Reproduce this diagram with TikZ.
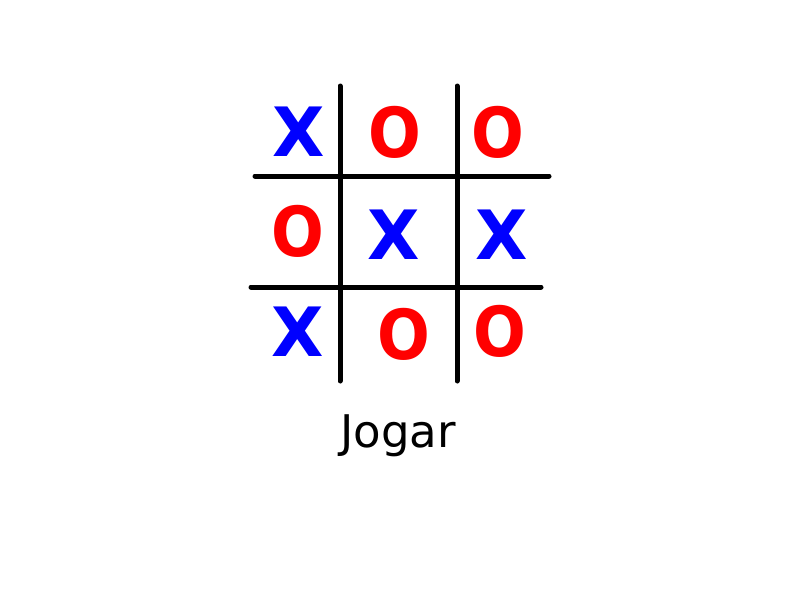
\documentclass[tikz,border=0pt]{standalone}
\usepackage{fontspec}
\setmainfont{DejaVu Sans}
\newfontfamily\markfont[FakeStretch=0.9]{DejaVu Sans}
\usepackage{tikz}
\usetikzlibrary{calc}

\tikzset{
	grid line/.style = {line width = 5pt, line cap = round},
	cross/.style = {text = blue, font = \fontsize{68}{68}\selectfont\bfseries, inner sep = 0pt},
	nought/.style = {text = red, font = \markfont\fontsize{69}{69}\selectfont\bfseries, inner sep = 0pt},
}

\begin{document}
\begin{tikzpicture}[x=1pt, y=-1pt]
		\useasboundingbox (0,0) rectangle (800,600);
		\def\top{86};
		\def\bottom{381};
		
		\coordinate (v1 top) at (340,\top);
		\coordinate (v1 bottom) at (340,\bottom);
		\coordinate (v2 top) at (457,\top);
		\coordinate (v2 bottom) at (457,\bottom);
		\coordinate (h1 left) at (255,176);
		\coordinate (h1 right) at (549,176);
		\coordinate (h2 left) at (251,287);
		\coordinate (h2 right) at (541,287);
		
		\draw [grid line] (v1 top) -- (v1 bottom);
		\draw [grid line] (v2 top) -- (v2 bottom);
		\draw [grid line] (h1 left) -- (h1 right);
		\draw [grid line] (h2 left) -- (h2 right);
		
		\node [cross] (c11) at (299,132) {X};
		\node [nought] (c12) at (395,132) {O};
		\node [nought] (c13) at (498,132) {O};
		
		\node [nought] (c21) at (298,231) {O};
		\node [cross] (c22) at (394,235) {X};
		\node [cross] (c23) at (502,235) {X};
		
		\node [cross] (c31) at (298,332) {X};
		\node [nought] (c32) at (404,334) {O};
		\node [nought] (c33) at (500,331) {O};
		
		\node [anchor = base, inner sep = 0pt, font = \fontsize{45}{45}\selectfont] (play) at (398,447) {Jogar};
	\end{tikzpicture}
\end{document}
